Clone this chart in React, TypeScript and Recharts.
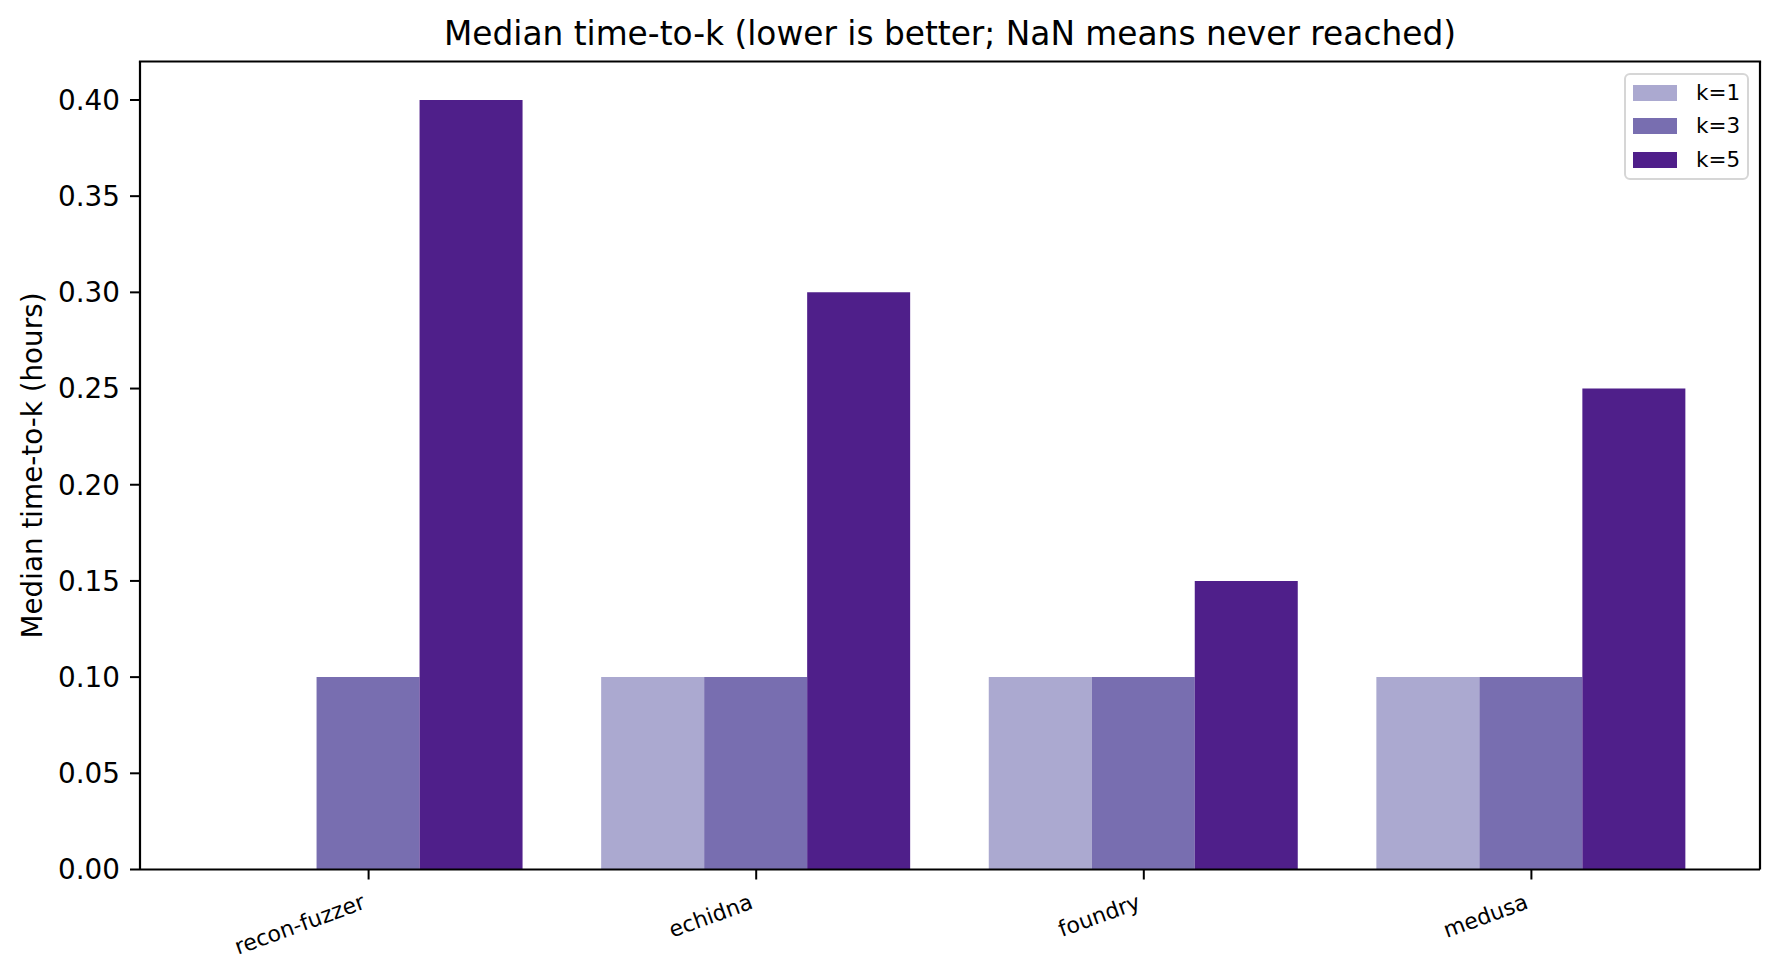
import React from 'react';
import { BarChart, Bar, XAxis, YAxis, Legend } from 'recharts';

const categories = ['recon-fuzzer', 'echidna', 'foundry', 'medusa'];
const k1Values: (number | null)[] = [null, 0.1, 0.1, 0.1];
const k3Values: (number | null)[] = [0.1, 0.1, 0.1, 0.1];
const k5Values: (number | null)[] = [0.4, 0.3, 0.15, 0.25];
const seriesNames = ['k=1', 'k=3', 'k=5'];
const seriesColors = ['#aba9d0', '#786eb0', '#4f1f8a'];
const yTicks = [0, 0.05, 0.1, 0.15, 0.2, 0.25, 0.3, 0.35, 0.4];

const data = categories.map((c, i) => ({
  name: c,
  k1: k1Values[i],
  k3: k3Values[i],
  k5: k5Values[i],
}));

const FONT = '"DejaVu Sans", Verdana, sans-serif';
const W = 1780;
const H = 977;
const PLOT_LEFT = 140;
const PLOT_RIGHT = 1760;
const PLOT_TOP = 61.5;
const PLOT_BOTTOM = 869.5;

const XTick = (props: any) => {
  const { x, payload } = props;
  const tx = x - 2;
  const ty = PLOT_BOTTOM + 38.5;
  return (
    <text
      x={tx}
      y={ty}
      transform={`rotate(-20, ${tx}, ${ty})`}
      textAnchor="end"
      fontSize={22}
      fontFamily={FONT}
      fill="#000"
    >
      {payload.value}
    </text>
  );
};

const LegendContent = () => (
  <div
    style={{
      width: 125,
      height: 107,
      boxSizing: 'border-box',
      border: '2px solid #d6d6d6',
      borderRadius: 6,
      background: 'rgba(255,255,255,0.8)',
      position: 'relative',
      fontFamily: FONT,
      fontSize: 21.5,
      color: '#000',
    }}
  >
    {seriesNames.map((n, i) => (
      <div
        key={n}
        style={{
          position: 'absolute',
          left: 0,
          top: 18 + i * 33.6 - 14,
          height: 28,
          width: 125,
          display: 'flex',
          alignItems: 'center',
        }}
      >
        <div
          style={{
            marginLeft: 7,
            width: 44,
            height: 16,
            background: seriesColors[i],
          }}
        />
        <span style={{ marginLeft: 19, lineHeight: '28px' }}>{n}</span>
      </div>
    ))}
  </div>
);

export default function App() {
  return (
    <div style={{ position: 'absolute', left: 0, top: 0, width: W, height: H, background: '#fff' }}>
      <BarChart
        width={W}
        height={H}
        data={data}
        margin={{ top: PLOT_TOP, right: W - PLOT_RIGHT, bottom: 0, left: 0 }}
        barCategoryGap="10%"
        barGap={0}
      >
        <XAxis
          xAxisId="bottom"
          dataKey="name"
          orientation="bottom"
          height={H - PLOT_BOTTOM}
          padding={{ left: 34.8, right: 34.8 }}
          axisLine={{ stroke: '#000', strokeWidth: 2.2 }}
          tickLine={{ stroke: '#000', strokeWidth: 2 }}
          tickSize={10}
          tickMargin={0}
          interval={0}
          tick={<XTick />}
        />
        <YAxis
          yAxisId="left"
          orientation="left"
          width={PLOT_LEFT}
          domain={[0, 0.42]}
          ticks={yTicks}
          allowDataOverflow
          tickFormatter={(v: number) => v.toFixed(2)}
          axisLine={{ stroke: '#000', strokeWidth: 2.2 }}
          tickLine={{ stroke: '#000', strokeWidth: 2 }}
          tickSize={10}
          tickMargin={10}
          tick={{ fontSize: 27.8, fill: '#000', fontFamily: FONT }}
          label={(p: any) => (
            <text
              x={32}
              y={(PLOT_TOP + PLOT_BOTTOM) / 2}
              transform={`rotate(-90, 32, ${(PLOT_TOP + PLOT_BOTTOM) / 2})`}
              textAnchor="middle"
              dominantBaseline="central"
              fontSize={27.8}
              fontFamily={FONT}
              fill="#000"
            >
              Median time-to-k (hours)
            </text>
          )}
        />
        <Legend
          layout="horizontal"
          verticalAlign="middle"
          align="center"
          wrapperStyle={{ position: 'absolute', left: 1624, top: 72.7, width: 125, height: 107 }}
          content={<LegendContent />}
        />
        <Bar xAxisId="bottom" yAxisId="left" dataKey="k1" name={seriesNames[0]} fill={seriesColors[0]} isAnimationActive={false} />
        <Bar xAxisId="bottom" yAxisId="left" dataKey="k3" name={seriesNames[1]} fill={seriesColors[1]} isAnimationActive={false} />
        <Bar xAxisId="bottom" yAxisId="left" dataKey="k5" name={seriesNames[2]} fill={seriesColors[2]} isAnimationActive={false} />
        <g>
          <line x1={PLOT_LEFT - 1.1} y1={PLOT_TOP} x2={PLOT_RIGHT + 1.1} y2={PLOT_TOP} stroke="#000" strokeWidth={2.2} />
          <line x1={PLOT_RIGHT} y1={PLOT_TOP} x2={PLOT_RIGHT} y2={PLOT_BOTTOM} stroke="#000" strokeWidth={2.2} />
          <text
            x={(PLOT_LEFT + PLOT_RIGHT) / 2}
            y={45}
            textAnchor="middle"
            fontSize={32.8}
            fontFamily={FONT}
            fill="#000"
          >
            Median time-to-k (lower is better; NaN means never reached)
          </text>
        </g>
      </BarChart>
    </div>
  );
}
